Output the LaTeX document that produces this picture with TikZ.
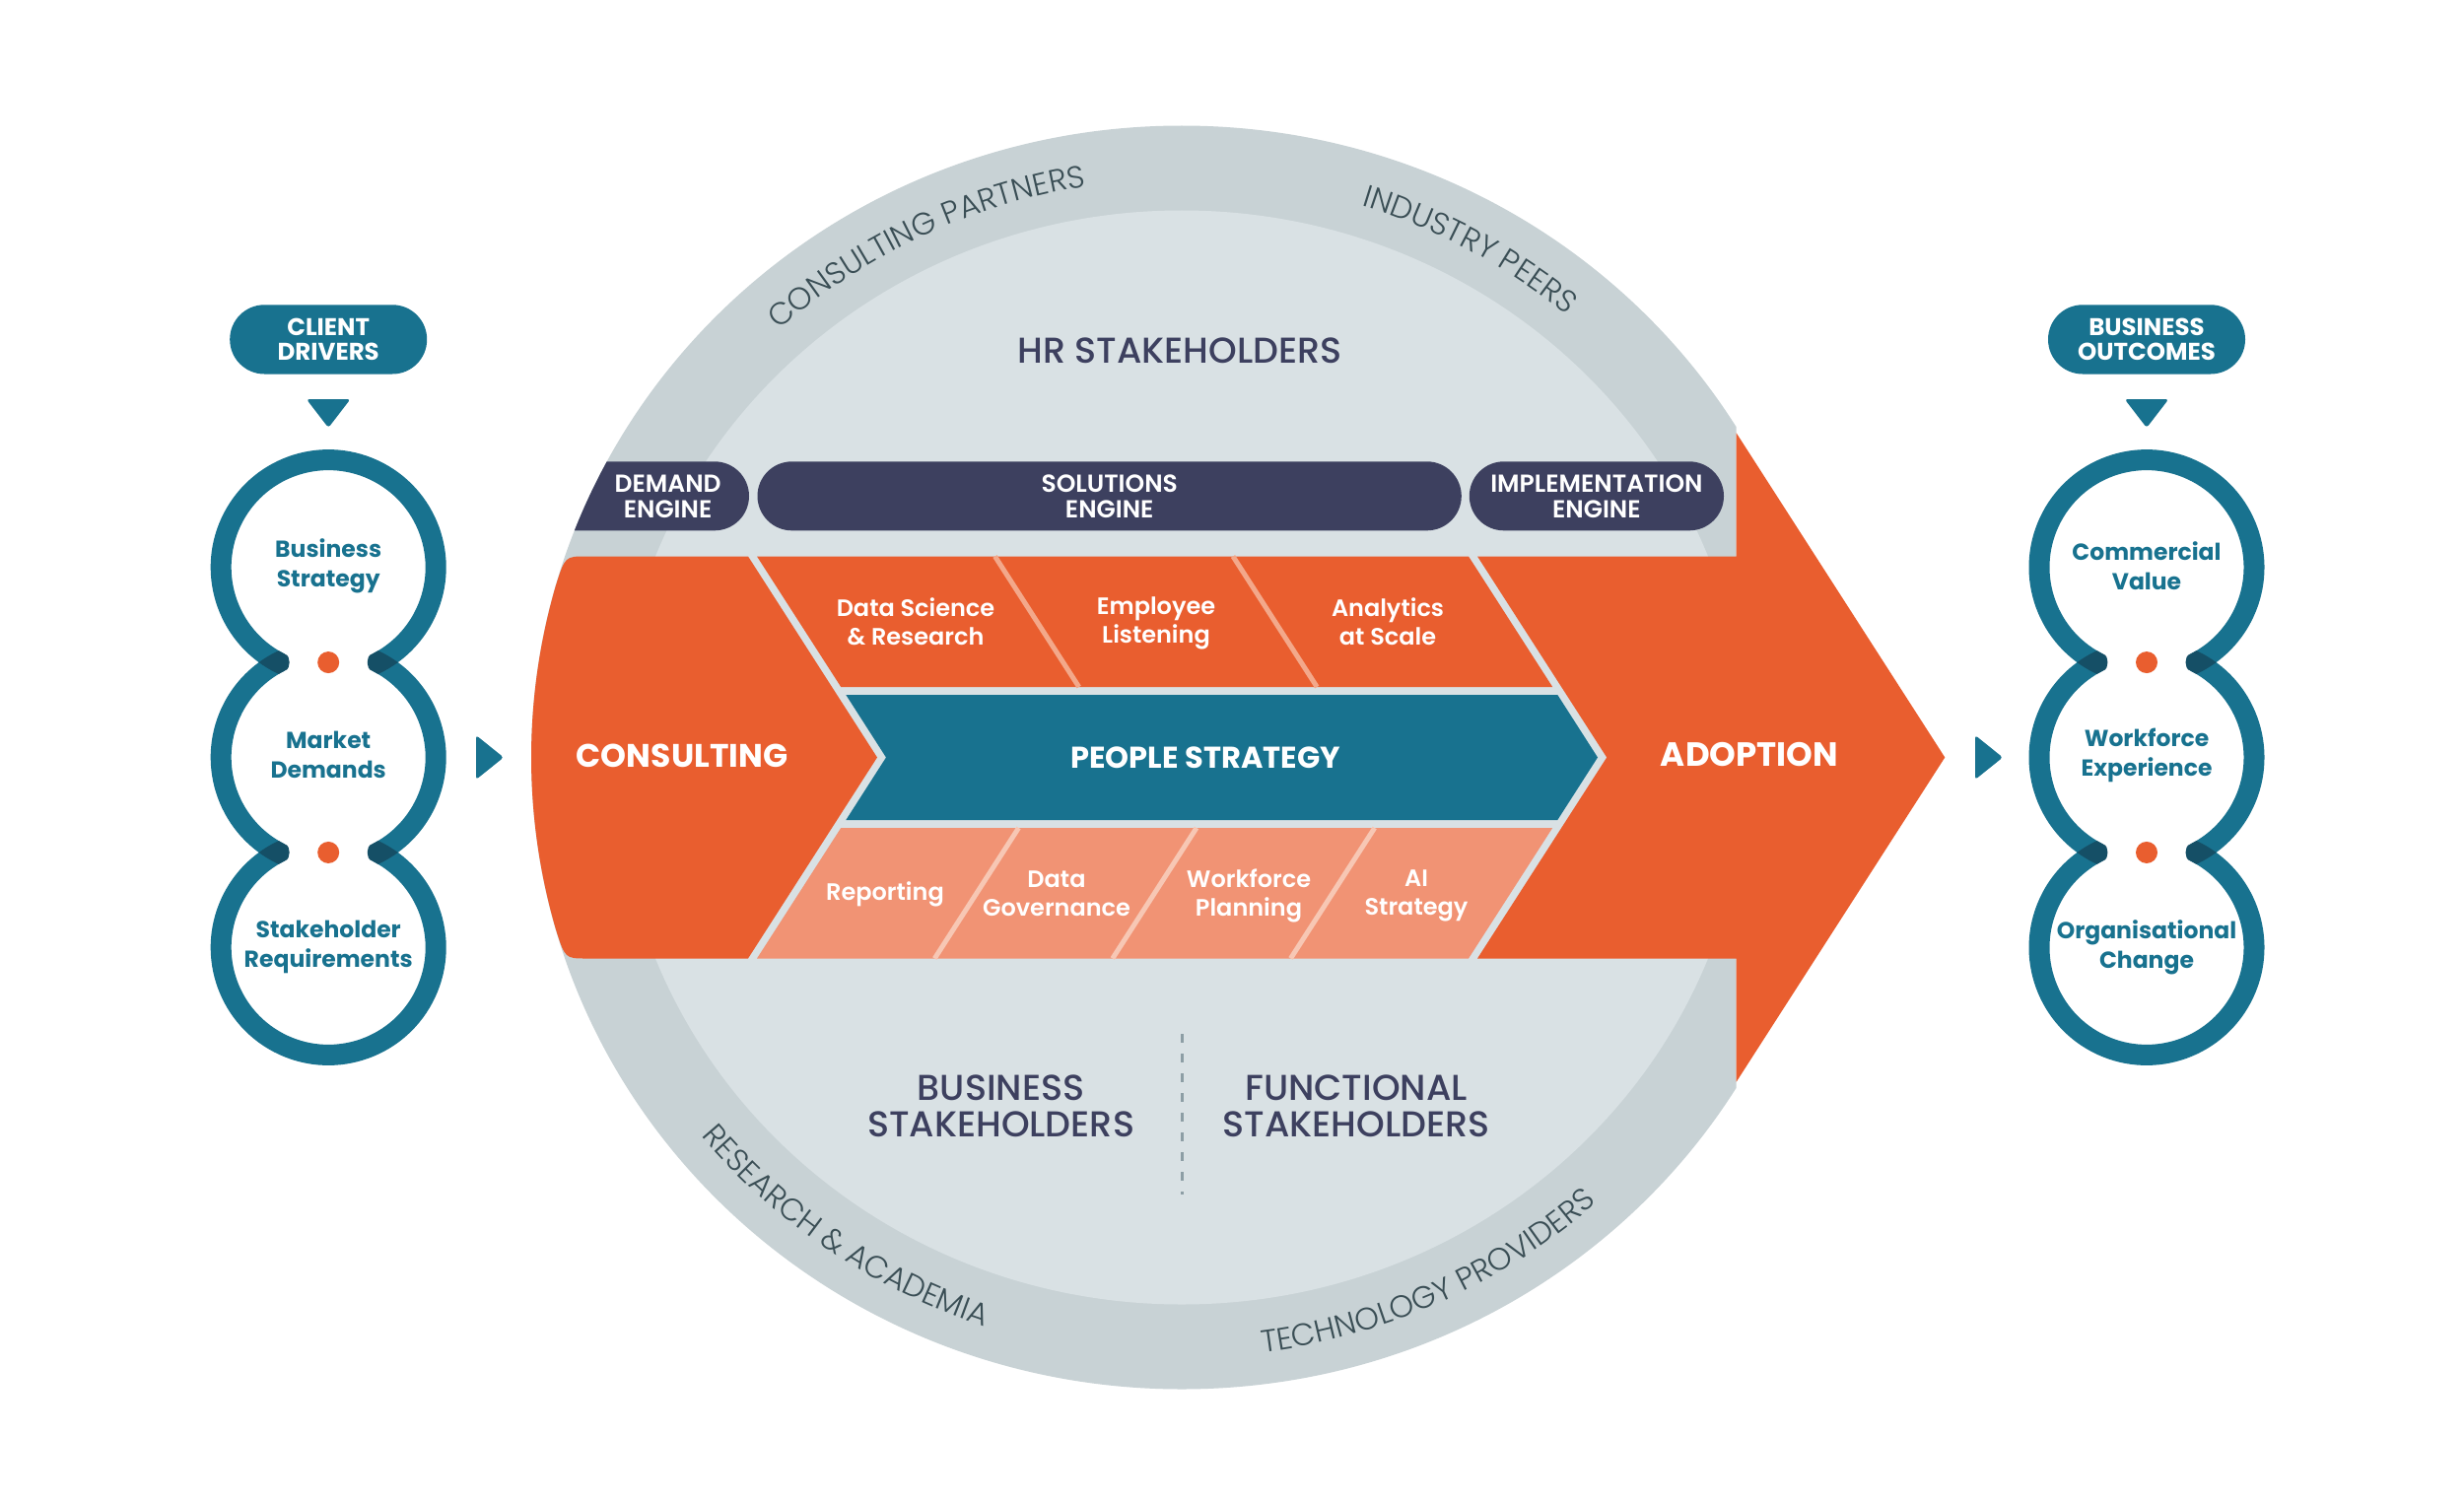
\documentclass[tikz,border=0pt]{standalone}
\usepackage{fontspec}
\newfontfamily\popsb{Poppins SemiBold}
\newfontfamily\popb{Poppins Bold}
\newfontfamily\popm{Poppins Medium}
\newfontfamily\popl{Poppins Light}
\usetikzlibrary{decorations.text}
\definecolor{teal1}{HTML}{18728F}
\definecolor{tealdark}{HTML}{154F66}
\definecolor{org}{HTML}{E95E2F}
\definecolor{salmon}{HTML}{F19374}
\definecolor{seamtop}{HTML}{F3A88A}
\definecolor{seambot}{HTML}{F7C7B4}
\definecolor{navy}{HTML}{3D405F}
\definecolor{ringout}{HTML}{C8D2D5}
\definecolor{ringin}{HTML}{D9E1E4}
\definecolor{ringtxt}{HTML}{3A4E55}
\definecolor{dashc}{HTML}{8D9EA5}

\newcommand\ringcolumn[6]{%
\begin{scope}[shift={(#1,0)}]
  \fill[teal1, rounded corners=35] (-100,309.3) rectangle (100,379.5);
  \node[pilltxt, font=\popb\fontsize{24.5}{25.5}\selectfont] (#2pill) at (0,344.4) {#3};
  \fill[teal1, rounded corners=3] (-22.3,405) -- (22.3,405) -- (0,434) -- cycle;
  \draw[ringline] ([shift={(117.8:109)}]0,575.6) arc[start angle=117.8, end angle=422.2, radius=109];
  \draw[ringline] ([shift={(117.8:109)}]0,768.5) arc[start angle=117.8, end angle=242.2, radius=109];
  \draw[ringline] ([shift={(-62.2:109)}]0,768.5) arc[start angle=-62.2, end angle=62.2, radius=109];
  \draw[ringline] ([shift={(-62.2:109)}]0,961.4) arc[start angle=-62.2, end angle=242.2, radius=109];
  \foreach \ya/\yb in {575.6/768.5, 768.5/961.4} {
    \foreach \xa/\xb in {-95/-39.6, 39.6/95} {
      \begin{scope}
        \clip (0,\ya) circle (119.5);
        \clip (0,\yb) circle (119.5);
        \clip[rounded corners=12] (\xa,{(\ya+\yb)/2-12.5}) rectangle (\xb,{(\ya+\yb)/2+12.5});
        \fill[tealdark, even odd rule] (-150,\ya-200) rectangle (150,\yb+200)
             (0,\ya) circle (98.5) (0,\yb) circle (98.5);
      \end{scope}
    }
  }
  \fill[org] (0,672.05) circle (11);
  \fill[org] (0,864.95) circle (11);
  \node[ringlbl] (#2a) at (0,574) {#4};
  \node[ringlbl] (#2b) at (0,766) {#5};
  \node[ringlbl] (#2c) at (0,961) {#6};
\end{scope}}

\begin{document}
\begin{tikzpicture}[x=1pt,y=-1pt,
  every node/.style={inner sep=0pt, outer sep=0pt},
  ringline/.style={line width=21pt, draw=teal1, line cap=round},
  pilltxt/.style={text=white, align=center, font=\popsb\fontsize{25}{25.5}\selectfont},
  ringlbl/.style={text=teal1, align=center, font=\popb\fontsize{23.5}{30}\selectfont},
  celltxt/.style={text=white, align=center, font=\popsb\fontsize{24}{29}\selectfont},
  bigtxt/.style={text=white, font=\popb\fontsize{33}{36}\selectfont},
  stktxt/.style={text=navy, align=center, font=\popm\fontsize{36.5}{37.5}\selectfont},
  ringword/.style={decorate, decoration={text along path, text align=center,
     text={|\popl\fontsize{31.5}{32}\selectfont\color{ringtxt}|#1}}}
]
\useasboundingbox (0,0) rectangle (2500,1525);
\fill[white] (0,0) rectangle (2500,1525);

% ---- big circle
\begin{scope}
  \clip (0,0) rectangle (1761.7,1525);
  \fill[ringout] (1199,768.5) ellipse [x radius=660, y radius=641];
  \fill[ringin] (1199,768.5) ellipse [x radius=574, y radius=555];
\end{scope}

% ring labels
\path[ringword={CONSULTING PARTNERS}] ([shift={(-152:606 and 587)}]1199,768.5) arc[start angle=-152, end angle=-80, x radius=606, y radius=587];
\path[ringword={INDUSTRY PEERS}] ([shift={(-96:606 and 587)}]1199,768.5) arc[start angle=-96, end angle=-26, x radius=606, y radius=587];
\path[ringword={RESEARCH {\&} ACADEMIA}] ([shift={(163:628 and 609)}]1199,768.5) arc[start angle=163, end angle=87, x radius=628, y radius=609];
\path[ringword={TECHNOLOGY PROVIDERS}] ([shift={(103:628 and 609)}]1199,768.5) arc[start angle=103, end angle=27, x radius=628, y radius=609];

\node[stktxt] (hr) at (1197,355.5) {HR STAKEHOLDERS};
\node[stktxt] (bs) at (1015.6,1122.5) {BUSINESS\\STAKEHOLDERS};
\node[stktxt] (fs) at (1376,1122.5) {FUNCTIONAL\\STAKEHOLDERS};
\coordinate (dtop) at (1199,1049);
\coordinate (dbot) at (1199,1212);
\draw[dashc, line width=3pt, dash pattern=on 9pt off 11pt] (dtop) -- (dbot);

% ---- engine pills
\begin{scope}
  \clip (1199,768.5) ellipse [x radius=660, y radius=641];
  \fill[navy, rounded corners=35] (500,468.3) rectangle (760,538.3);
\end{scope}
\fill[navy, rounded corners=35] (768.5,468.3) rectangle (1482.8,538.3);
\fill[navy, rounded corners=35] (1490.8,468.3) rectangle (1749,538.3);
\node[pilltxt] (de) at (677.6,503.8) {DEMAND\\ENGINE};
\node[pilltxt] (se) at (1125.7,503.8) {SOLUTIONS\\ENGINE};
\node[pilltxt] (ie) at (1619.9,503.8) {IMPLEMENTATION\\ENGINE};

% ---- consulting
\fill[org] (595,564.5) -- (759,564.5) -- (890,768.5) -- (759,972.5) -- (595,972.5)
  .. controls (573.3,972.5) .. (563.8,942.5)
  arc[start angle=164.25, end angle=195.75, x radius=660, y radius=641]
  .. controls (573.3,564.5) .. (595,564.5) -- cycle;

% ---- top row
\fill[org] (768,564.5) -- (1490,564.5) -- (1575.2,697) -- (853.2,697) -- cycle;
\draw[seamtop, line width=5pt] (1009.5,564.5) -- (1094.7,697);
\draw[seamtop, line width=5pt] (1251,564.5) -- (1336.2,697);
% ---- people strategy
\fill[teal1] (858.3,705) -- (1580.3,705) -- (1621,768.5) -- (1580.3,832) -- (858.3,832) -- (899,768.5) -- cycle;
% ---- bottom row
\fill[salmon] (853.2,840) -- (1575.2,840) -- (1490,972.5) -- (768,972.5) -- cycle;
\draw[seambot, line width=5pt] (1033.5,840) -- (948.3,972.5);
\draw[seambot, line width=5pt] (1214,840) -- (1128.8,972.5);
\draw[seambot, line width=5pt] (1394.7,840) -- (1309.5,972.5);

% ---- adoption arrow
\fill[org] (1499,564.5) -- (1761.7,564.5) -- (1761.7,439.3) -- (1973.3,768.5)
  -- (1761.7,1097.7) -- (1761.7,972.5) -- (1499,972.5) -- (1630.2,768.5) -- cycle;

\node[bigtxt] (cons) at (692,767) {CONSULTING};
\node[bigtxt, font=\popb\fontsize{30.5}{32}\selectfont] (ps) at (1223,768.5) {PEOPLE STRATEGY};
\node[bigtxt, font=\popb\fontsize{34}{36}\selectfont] (adop) at (1775,766) {ADOPTION};

\node[celltxt] (dsr) at (929,630.75) {Data Science\\\& Research};
\node[celltxt] (el) at (1173,632) {Employee\\Listening};
\node[celltxt] (aas) at (1408,630.75) {Analytics\\at Scale};
\node[celltxt] (rep) at (898,907) {Reporting};
\node[celltxt] (dg) at (1072,907) {Data\\Governance};
\node[celltxt] (wp) at (1267,908.5) {Workforce\\Planning};
\node[celltxt] (ai) at (1437,908.5) {AI\\Strategy};

% ---- side columns
\ringcolumn{333.2}{L}{CLIENT\\DRIVERS}{Business\\Strategy}{Market\\Demands}{Stakeholder\\Requirements}
\ringcolumn{2178}{R}{BUSINESS\\OUTCOMES}{Commercial\\Value}{Workforce\\Experience}{Organisational\\Change}

\fill[teal1, rounded corners=3] (483,746) -- (511,768.5) -- (483,791) -- cycle;
\fill[teal1, rounded corners=3] (2004,746) -- (2032,768.5) -- (2004,791) -- cycle;
\end{tikzpicture}
\end{document}
